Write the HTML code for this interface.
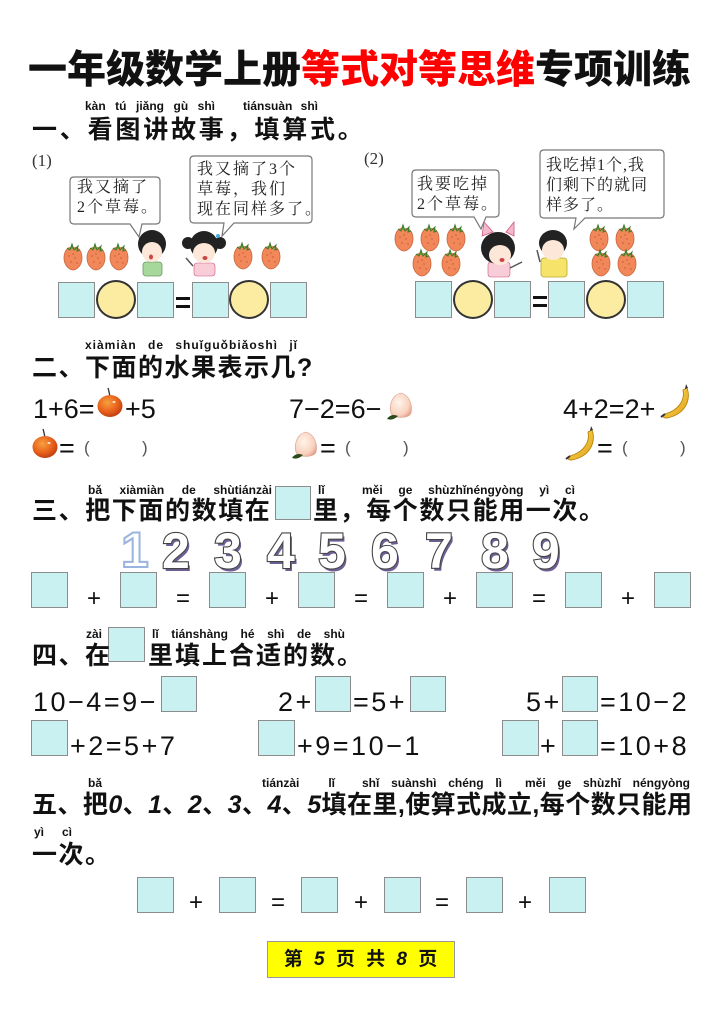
<!DOCTYPE html>
<html><head><meta charset="utf-8">
<style>
*{margin:0;padding:0;box-sizing:border-box}
body{width:724px;height:1024px;background:#fff;position:relative;overflow:hidden;font-family:"Liberation Sans","Noto Sans CJK SC",sans-serif;color:#111}
.a{position:absolute;white-space:nowrap}
.bx{position:absolute;background:#c9f1f1;border:1px solid #8c8c8c}
.ci{position:absolute;background:#fbeca2;border:2px solid #333;border-radius:50%}
.py{position:absolute;font-family:"Liberation Sans",sans-serif;font-size:12px;font-weight:bold;line-height:12px;white-space:nowrap;color:#111;text-align:justify;text-align-last:justify}
.hd{position:absolute;font-family:"Liberation Sans","Noto Sans CJK SC",sans-serif;font-weight:700;font-size:25px;line-height:30px;white-space:nowrap;letter-spacing:1.5px}
.eq{position:absolute;font-family:"Liberation Sans",sans-serif;font-size:27px;line-height:30px;white-space:nowrap}
.eq4{position:absolute;font-family:"Liberation Sans",sans-serif;font-size:27px;line-height:30px;white-space:nowrap;letter-spacing:2.5px}
.op{position:absolute;font-family:"Liberation Sans",sans-serif;font-size:24px;line-height:24px}
.bub{position:absolute;font-family:"Liberation Serif","Noto Serif CJK SC",serif;font-size:16px;line-height:20px;letter-spacing:2px;color:#222}
.par{position:absolute;font-size:17px;color:#555;font-family:'Liberation Sans',sans-serif}
</style></head><body>

<!-- Title -->
<div class="a" style="left:28px;top:48px;font-family:'Liberation Sans','Noto Sans CJK SC',sans-serif;font-weight:900;font-size:39px;line-height:46px;letter-spacing:0">一年级数学上册<span style="color:#f00">等式对等思维</span>专项训练</div>

<!-- Section 1 -->
<div class="py" style="left:85px;top:100px;width:130px">kàn tú jiǎng gù shì</div>
<div class="py" style="left:243px;top:100px;width:75px">tiánsuàn shì</div>
<div class="hd" style="left:32px;top:115px;letter-spacing:2.8px">一、看图讲故事，填算式。</div>

<svg class="a" style="left:0;top:140px" width="724" height="145" viewBox="0 140 724 145">
  <defs>
    <g id="sb">
      <path d="M0,-10 C-6,-12 -9,-6 -9,0 C-9,8 -3,12 0,12 C3,12 9,8 9,0 C9,-6 6,-12 0,-10 Z" fill="#f2875a" stroke="#c8653d" stroke-width="0.8"/>
      <path d="M-6,-10 L-3,-8 L-1,-14 L1,-8 L5,-12 L4,-7 L7,-8" fill="#5aa03c" stroke="#3c7a28" stroke-width="1"/>
      <g fill="#b85a36"><circle cx="-4" cy="-2" r="0.7"/><circle cx="2" cy="0" r="0.7"/><circle cx="-2" cy="4" r="0.7"/><circle cx="4" cy="5" r="0.7"/><circle cx="0" cy="-4" r="0.7"/></g>
    </g>
  </defs>
  <text x="32" y="166" font-family="Liberation Serif" font-size="17" fill="#333">(1)</text>
  <path d="M74,177 H156 Q160,177 160,181 V220 Q160,224 156,224 H142 L139,237 L130,224 H74 Q70,224 70,220 V181 Q70,177 74,177 Z" fill="#fff" stroke="#777" stroke-width="1.2"/>
  <path d="M194,156 H308 Q312,156 312,160 V219 Q312,223 308,223 H234 L222,236 L224,223 H194 Q190,223 190,219 V160 Q190,156 194,156 Z" fill="#fff" stroke="#777" stroke-width="1.2"/>
  <use href="#sb" x="73" y="258"/><use href="#sb" x="96" y="258"/><use href="#sb" x="119" y="258"/>
  <use href="#sb" x="243" y="257"/><use href="#sb" x="271" y="257"/>
  <rect x="143" y="262" width="19" height="14" rx="3" fill="#a6d89c" stroke="#6a9a62" stroke-width="0.8"/>
  <ellipse cx="152" cy="244" rx="14" ry="14" fill="#222"/>
  <ellipse cx="152" cy="252" rx="10" ry="10" fill="#fde7d8"/>
  <ellipse cx="151" cy="257" rx="2" ry="2.5" fill="#c44"/>
  <rect x="194" y="263" width="21" height="13" rx="3" fill="#f8cdd8" stroke="#c58" stroke-width="0.6"/>
  <circle cx="188" cy="243" r="6" fill="#222"/><circle cx="220" cy="243" r="6" fill="#222"/>
  <circle cx="218" cy="236" r="2" fill="#4aa8e0"/>
  <ellipse cx="204" cy="245" rx="14" ry="14" fill="#222"/>
  <ellipse cx="204" cy="253" rx="11" ry="10" fill="#fde7d8"/>
  <ellipse cx="205" cy="258" rx="2.5" ry="2" fill="#c44"/>
  <path d="M193,266 L186,258" stroke="#555" stroke-width="1.5"/>

  <text x="364" y="164" font-family="Liberation Serif" font-size="17" fill="#333">(2)</text>
  <path d="M416,170 H495 Q499,170 499,174 V213 Q499,217 495,217 H486 L481,229 L474,217 H416 Q412,217 412,213 V174 Q412,170 416,170 Z" fill="#fff" stroke="#777" stroke-width="1.2"/>
  <path d="M544,150 H660 Q664,150 664,154 V214 Q664,218 660,218 H585 L574,229 L576,218 H544 Q540,218 540,214 V154 Q540,150 544,150 Z" fill="#fff" stroke="#777" stroke-width="1.2"/>
  <use href="#sb" x="404" y="239"/><use href="#sb" x="430" y="239"/><use href="#sb" x="456" y="239"/>
  <use href="#sb" x="422" y="264"/><use href="#sb" x="451" y="264"/>
  <use href="#sb" x="599" y="239"/><use href="#sb" x="625" y="239"/>
  <use href="#sb" x="601" y="264"/><use href="#sb" x="627" y="264"/>
  <rect x="488" y="262" width="22" height="15" rx="3" fill="#f8cdd8" stroke="#c58" stroke-width="0.6"/>
  <path d="M482,236 L484,222 L493,232 Z M506,232 L514,222 L514,236 Z" fill="#f4b8c8" stroke="#c58" stroke-width="0.8"/>
  <ellipse cx="498" cy="248" rx="17" ry="16" fill="#222"/>
  <ellipse cx="500" cy="255" rx="11" ry="10" fill="#fde7d8"/>
  <ellipse cx="502" cy="260" rx="2.5" ry="2" fill="#c44"/>
  <path d="M510,268 L522,262" stroke="#555" stroke-width="1.5"/>
  <rect x="541" y="258" width="26" height="19" rx="3" fill="#f6e46a" stroke="#b9a630" stroke-width="0.8"/>
  <ellipse cx="553" cy="243" rx="14" ry="13" fill="#222"/>
  <ellipse cx="553" cy="250" rx="11" ry="10" fill="#fde7d8"/>
  <path d="M540,262 L537,250" stroke="#555" stroke-width="1.5"/>
</svg>

<div class="bub" style="left:77px;top:178px">我又摘了<br>2个草莓。</div>
<div class="bub" style="left:197px;top:160px">我又摘了3个<br>草莓，我们<br>现在同样多了。</div>
<div class="bub" style="left:417px;top:175px">我要吃掉<br>2个草莓。</div>
<div class="bub" style="left:546px;top:156px;letter-spacing:1px">我吃掉1个,我<br>们剩下的就同<br>样多了。</div>

<!-- box row 1 -->
<div class="bx" style="left:58px;top:282px;width:37px;height:36px"></div>
<div class="ci" style="left:96px;top:280px;width:40px;height:39px"></div>
<div class="bx" style="left:137px;top:282px;width:37px;height:36px"></div>
<div class="a" style="left:176px;top:297px;width:14px;height:3px;background:#111"></div>
<div class="a" style="left:176px;top:305px;width:14px;height:3px;background:#111"></div>
<div class="bx" style="left:192px;top:282px;width:37px;height:36px"></div>
<div class="ci" style="left:229px;top:280px;width:40px;height:39px"></div>
<div class="bx" style="left:270px;top:282px;width:37px;height:36px"></div>

<div class="bx" style="left:415px;top:281px;width:37px;height:37px"></div>
<div class="ci" style="left:453px;top:280px;width:40px;height:39px"></div>
<div class="bx" style="left:494px;top:281px;width:37px;height:37px"></div>
<div class="a" style="left:533px;top:296px;width:14px;height:3px;background:#111"></div>
<div class="a" style="left:533px;top:304px;width:14px;height:3px;background:#111"></div>
<div class="bx" style="left:548px;top:281px;width:37px;height:37px"></div>
<div class="ci" style="left:586px;top:280px;width:40px;height:39px"></div>
<div class="bx" style="left:627px;top:281px;width:37px;height:37px"></div>

<!-- Section 2 -->
<div class="py" style="left:85px;top:339px;width:213px;letter-spacing:1px">xiàmiàn de shuǐguǒbiǎoshì jǐ</div>
<div class="hd" style="left:32px;top:353px">二、下面的水果表示几?</div>

<svg class="a" style="left:0;top:380px" width="724" height="90" viewBox="0 380 724 90">
  <defs>
    <radialGradient id="ap" cx="0.4" cy="0.35" r="0.7"><stop offset="0" stop-color="#f7a040"/><stop offset="0.6" stop-color="#e8601a"/><stop offset="1" stop-color="#b83a10"/></radialGradient>
    <radialGradient id="pc" cx="0.4" cy="0.4" r="0.7"><stop offset="0" stop-color="#fff4ea"/><stop offset="0.7" stop-color="#f8d2be"/><stop offset="1" stop-color="#e89a8a"/></radialGradient>
    <linearGradient id="bn" x1="0" y1="0" x2="1" y2="1"><stop offset="0" stop-color="#fde06a"/><stop offset="1" stop-color="#e0a010"/></linearGradient>
    <g id="apple"><path d="M0,-9 Q-1,-15 -2,-18" stroke="#333" stroke-width="1.3" fill="none"/><ellipse cx="0" cy="0" rx="12.5" ry="11" fill="url(#ap)"/><ellipse cx="4" cy="-4" rx="1.5" ry="1" fill="#fff" opacity="0.8"/></g>
    <g id="peach"><path d="M0,-14 C-10,-12 -12,0 -10,6 C-8,12 8,12 10,6 C12,-2 8,-12 0,-14 Z" fill="url(#pc)" stroke="#d9a090" stroke-width="0.6"/><path d="M-14,12 Q-10,6 -3,9 Q-8,14 -14,12 Z" fill="#2a4a1a"/></g>
    <g id="banana"><path d="M10,-16 C14,-6 10,10 -10,14 C-14,14 -16,12 -12,10 C2,6 8,-4 6,-14 Z" fill="url(#bn)" stroke="#b07a00" stroke-width="0.8"/><path d="M8,-15 L9,-20 L11,-16" fill="#333"/><path d="M-12,10 L-16,13" stroke="#333" stroke-width="2"/></g>
  </defs>
  <use href="#apple" x="110" y="406"/>
  <use href="#apple" x="45" y="447"/>
  <use href="#peach" x="401" y="407"/>
  <use href="#peach" x="306" y="446"/>
  <use href="#banana" x="677" y="404"/>
  <use href="#banana" x="582" y="446"/>
</svg>

<div class="eq" style="left:33px;top:394px">1+6=</div>
<div class="eq" style="left:125px;top:394px">+5</div>
<div class="eq" style="left:289px;top:394px">7−2=6−</div>
<div class="eq" style="left:563px;top:394px">4+2=2+</div>
<div class="eq" style="left:59px;top:433px">=</div>
<div class="par" style="left:84px;top:438px">(</div>
<div class="par" style="left:142px;top:438px">)</div>
<div class="eq" style="left:320px;top:433px">=</div>
<div class="par" style="left:345px;top:438px">(</div>
<div class="par" style="left:403px;top:438px">)</div>
<div class="eq" style="left:597px;top:433px">=</div>
<div class="par" style="left:622px;top:438px">(</div>
<div class="par" style="left:680px;top:438px">)</div>

<!-- Section 3 -->
<div class="py" style="left:88px;top:484px;width:184px">bǎ xiàmiàn de shùtiánzài</div>
<div class="py" style="left:318px;top:484px">lǐ</div>
<div class="py" style="left:362px;top:484px;width:213px">měi ge shùzhǐnéngyòng yì cì</div>
<div class="bx" style="left:275px;top:486px;width:36px;height:34px"></div>
<div class="hd" style="left:32px;top:496px;letter-spacing:1.6px">三、把下面的数填在</div>
<div class="hd" style="left:313px;top:496px;letter-spacing:1.6px">里，每个数只能用一次。</div>

<svg class="a" style="left:0;top:525px" width="724" height="50" viewBox="0 525 724 50">
  <g font-family="Liberation Sans" font-weight="bold" font-size="50">
    <g fill="#6e5f96" transform="translate(2,3)">
      <text x="162" y="568">2</text><text x="214" y="568">3</text><text x="267" y="568">4</text><text x="318" y="568">5</text><text x="371" y="568">6</text><text x="425" y="568">7</text><text x="481" y="568">8</text><text x="532" y="568">9</text>
    </g>
    <g fill="#fff" stroke="#444" stroke-width="2.2" paint-order="stroke">
      <text x="162" y="568">2</text><text x="214" y="568">3</text><text x="267" y="568">4</text><text x="318" y="568">5</text><text x="371" y="568">6</text><text x="425" y="568">7</text><text x="481" y="568">8</text><text x="532" y="568">9</text>
    </g>
    <text x="121" y="567" fill="#fff" stroke="#9ab4e0" stroke-width="2">1</text>
  </g>
</svg>

<div class="bx" style="left:31px;top:572px;width:37px;height:36px"></div>
<div class="bx" style="left:120px;top:572px;width:37px;height:36px"></div>
<div class="bx" style="left:209px;top:572px;width:37px;height:36px"></div>
<div class="bx" style="left:298px;top:572px;width:37px;height:36px"></div>
<div class="bx" style="left:387px;top:572px;width:37px;height:36px"></div>
<div class="bx" style="left:476px;top:572px;width:37px;height:36px"></div>
<div class="bx" style="left:565px;top:572px;width:37px;height:36px"></div>
<div class="bx" style="left:654px;top:572px;width:37px;height:36px"></div>
<div class="op" style="left:87px;top:587px">+</div>
<div class="op" style="left:176px;top:587px">=</div>
<div class="op" style="left:265px;top:587px">+</div>
<div class="op" style="left:354px;top:587px">=</div>
<div class="op" style="left:443px;top:587px">+</div>
<div class="op" style="left:532px;top:587px">=</div>
<div class="op" style="left:621px;top:587px">+</div>

<!-- Section 4 -->
<div class="py" style="left:86px;top:628px">zài</div>
<div class="py" style="left:152px;top:628px;width:193px">lǐ tiánshàng hé shì de shù</div>
<div class="bx" style="left:108px;top:627px;width:37px;height:35px"></div>
<div class="hd" style="left:32px;top:641px">四、在</div>
<div class="hd" style="left:148px;top:641px;letter-spacing:2px">里填上合适的数。</div>

<div class="eq4" style="left:33px;top:687px">10−4=9−</div>
<div class="bx" style="left:161px;top:676px;width:36px;height:36px"></div>
<div class="eq4" style="left:278px;top:687px">2+</div>
<div class="bx" style="left:315px;top:676px;width:36px;height:36px"></div>
<div class="eq4" style="left:353px;top:687px">=5+</div>
<div class="bx" style="left:410px;top:676px;width:36px;height:36px"></div>
<div class="eq4" style="left:526px;top:687px">5+</div>
<div class="bx" style="left:562px;top:676px;width:36px;height:36px"></div>
<div class="eq4" style="left:600px;top:687px">=10−2</div>

<div class="bx" style="left:31px;top:720px;width:37px;height:36px"></div>
<div class="eq4" style="left:70px;top:731px">+2=5+7</div>
<div class="bx" style="left:258px;top:720px;width:37px;height:36px"></div>
<div class="eq4" style="left:297px;top:731px">+9=10−1</div>
<div class="bx" style="left:502px;top:720px;width:37px;height:36px"></div>
<div class="eq4" style="left:540px;top:731px">+</div>
<div class="bx" style="left:562px;top:720px;width:36px;height:36px"></div>
<div class="eq4" style="left:600px;top:731px">=10+8</div>

<!-- Section 5 -->
<div class="py" style="left:88px;top:777px">bǎ</div>
<div class="py" style="left:262px;top:777px;width:73px">tiánzài lǐ</div>
<div class="py" style="left:362px;top:777px;width:140px">shǐ suànshì chéng lì</div>
<div class="py" style="left:525px;top:777px;width:165px">měi ge shùzhǐ néngyòng</div>
<div class="hd" style="left:32px;top:790px;width:660px;text-align:justify;text-align-last:justify;letter-spacing:0">五、把<i>0</i>、<i>1</i>、<i>2</i>、<i>3</i>、<i>4</i>、<i>5</i>填在里,使算式成立,每个数只能用</div>
<div class="py" style="left:34px;top:826px;width:38px">yì cì</div>
<div class="hd" style="left:32px;top:840px">一次。</div>

<div class="bx" style="left:137px;top:877px;width:37px;height:36px"></div>
<div class="bx" style="left:219px;top:877px;width:37px;height:36px"></div>
<div class="bx" style="left:301px;top:877px;width:37px;height:36px"></div>
<div class="bx" style="left:384px;top:877px;width:37px;height:36px"></div>
<div class="bx" style="left:466px;top:877px;width:37px;height:36px"></div>
<div class="bx" style="left:549px;top:877px;width:37px;height:36px"></div>
<div class="op" style="left:189px;top:891px">+</div>
<div class="op" style="left:271px;top:891px">=</div>
<div class="op" style="left:354px;top:891px">+</div>
<div class="op" style="left:435px;top:891px">=</div>
<div class="op" style="left:518px;top:891px">+</div>

<!-- Footer -->
<div class="a" style="left:267px;top:941px;width:188px;height:37px;background:#ffff00;border:1px solid #999"></div>
<div class="a" style="left:267px;top:941px;width:188px;height:37px;line-height:37px;text-align:center;font-family:'Liberation Sans','Noto Sans CJK SC',sans-serif;font-weight:700;font-size:19px;letter-spacing:1px;word-spacing:4px">第 <i>5</i> 页 共 <i>8</i> 页</div>

</body></html>
